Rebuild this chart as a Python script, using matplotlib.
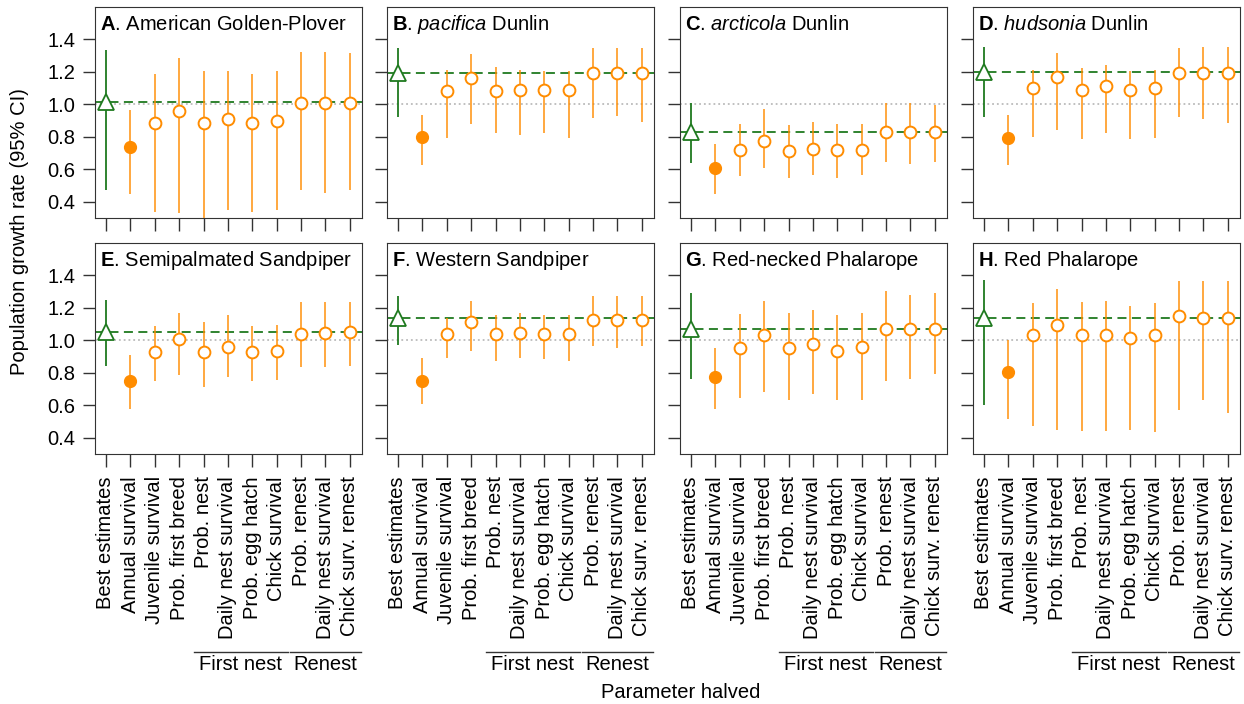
import matplotlib.pyplot as plt
import numpy as np

plt.rcParams['font.family'] = ['Liberation Sans', 'DejaVu Sans']
plt.rcParams['mathtext.fontset'] = 'custom'
plt.rcParams['mathtext.rm'] = 'Liberation Sans'
plt.rcParams['mathtext.it'] = 'Liberation Sans:italic'
plt.rcParams['mathtext.bf'] = 'Liberation Sans:bold'

############################
# data
############################
params = ["Best estimates", "Annual survival", "Juvenile survival", "Prob. first breed",
          "Prob. nest", "Daily nest survival", "Prob. egg hatch", "Chick survival",
          "Prob. renest", "Daily nest survival", "Chick surv. renest"]

titles = [r"$\mathbf{A}$. American Golden-Plover",
          r"$\mathbf{B}$. $\mathit{pacifica}$ Dunlin",
          r"$\mathbf{C}$. $\mathit{arcticola}$ Dunlin",
          r"$\mathbf{D}$. $\mathit{hudsonia}$ Dunlin",
          r"$\mathbf{E}$. Semipalmated Sandpiper",
          r"$\mathbf{F}$. Western Sandpiper",
          r"$\mathbf{G}$. Red-necked Phalarope",
          r"$\mathbf{H}$. Red Phalarope"]

est_A = [1.015, 0.735, 0.887, 0.959, 0.887, 0.912, 0.887, 0.897, 1.008, 1.008, 1.008]
lo_A = [0.473, 0.449, 0.335, 0.329, 0.27, 0.352, 0.335, 0.352, 0.473, 0.457, 0.473]
hi_A = [1.333, 0.963, 1.189, 1.284, 1.204, 1.204, 1.189, 1.204, 1.323, 1.323, 1.317]

est_B = [1.195, 0.798, 1.080, 1.160, 1.080, 1.086, 1.086, 1.086, 1.193, 1.193, 1.193]
lo_B = [0.922, 0.626, 0.794, 0.881, 0.825, 0.809, 0.825, 0.794, 0.914, 0.930, 0.889]
hi_B = [1.348, 0.932, 1.214, 1.309, 1.228, 1.214, 1.204, 1.204, 1.348, 1.348, 1.348]

est_C = [0.831, 0.605, 0.718, 0.774, 0.710, 0.724, 0.718, 0.718, 0.831, 0.831, 0.831]
lo_C = [0.640, 0.449, 0.556, 0.609, 0.545, 0.562, 0.545, 0.562, 0.648, 0.634, 0.648]
hi_C = [1.008, 0.753, 0.881, 0.969, 0.874, 0.889, 0.881, 0.881, 1.008, 1.008, 0.994]

est_D = [1.200, 0.792, 1.103, 1.169, 1.088, 1.111, 1.088, 1.103, 1.195, 1.195, 1.195]
lo_D = [0.924, 0.626, 0.802, 0.844, 0.788, 0.825, 0.788, 0.794, 0.922, 0.907, 0.883]
hi_D = [1.354, 0.936, 1.210, 1.317, 1.226, 1.245, 1.204, 1.210, 1.348, 1.354, 1.354]

est_E = [1.049, 0.749, 0.928, 1.006, 0.928, 0.961, 0.928, 0.936, 1.039, 1.047, 1.049]
lo_E = [0.844, 0.576, 0.747, 0.786, 0.714, 0.772, 0.747, 0.755, 0.833, 0.833, 0.844]
hi_E = [1.251, 0.912, 1.088, 1.171, 1.115, 1.154, 1.088, 1.097, 1.237, 1.237, 1.237]

est_F = [1.136, 0.749, 1.039, 1.113, 1.039, 1.047, 1.039, 1.039, 1.128, 1.128, 1.128]
lo_F = [0.971, 0.611, 0.891, 0.932, 0.874, 0.891, 0.883, 0.874, 0.963, 0.955, 0.963]
hi_F = [1.274, 0.891, 1.138, 1.243, 1.154, 1.171, 1.154, 1.154, 1.274, 1.274, 1.274]

est_G = [1.072, 0.776, 0.951, 1.031, 0.951, 0.975, 0.934, 0.959, 1.072, 1.072, 1.072]
lo_G = [0.765, 0.576, 0.644, 0.681, 0.634, 0.667, 0.634, 0.634, 0.747, 0.765, 0.794]
hi_G = [1.292, 0.955, 1.163, 1.243, 1.171, 1.187, 1.154, 1.171, 1.307, 1.282, 1.292]

est_H = [1.136, 0.807, 1.031, 1.095, 1.031, 1.031, 1.016, 1.031, 1.150, 1.136, 1.136]
lo_H = [0.603, 0.514, 0.473, 0.449, 0.442, 0.442, 0.449, 0.434, 0.570, 0.634, 0.553]
hi_H = [1.372, 1.002, 1.228, 1.317, 1.237, 1.245, 1.212, 1.228, 1.364, 1.364, 1.364]

est_all = [est_A, est_B, est_C, est_D, est_E, est_F, est_G, est_H]
lo_all = [lo_A, lo_B, lo_C, lo_D, lo_E, lo_F, lo_G, lo_H]
hi_all = [hi_A, hi_B, hi_C, hi_D, hi_E, hi_F, hi_G, hi_H]

############################
# plot
############################
green = '#1f7a1f'
orange = '#ff8c00'
fs = 14.5

fig = plt.figure(figsize=(12.44, 7.04), dpi=100)
lefts = [95, 387, 680, 973]
tops = [7, 243]
W, H = 1244, 704
pw, ph = 267, 211

x = np.arange(1, len(params) + 1)
for i in range(8):
    r, c = divmod(i, 4)
    ax = fig.add_axes([lefts[c] / W, 1 - (tops[r] + ph) / H, pw / W, ph / H])
    est, lo, hi = np.array(est_all[i]), np.array(lo_all[i]), np.array(hi_all[i])

    ax.axhline(1.0, color='#bbbbbb', ls=':', lw=1.3, zorder=1)
    ax.axhline(est[0], color=green, ls=(0, (5, 3)), lw=1.3, zorder=2)

    # best estimate
    ax.vlines(x[0], lo[0], hi[0], color=green, lw=1.3, zorder=3)
    ax.plot(x[0], est[0], marker='^', ms=12, mfc='white', mec=green, mew=1.3, zorder=4)
    # halved params
    ax.vlines(x[1:], lo[1:], hi[1:], color=orange, lw=1.4, alpha=0.75, zorder=3)
    ax.plot(x[1], est[1], marker='o', ms=8.5, mfc=orange, mec=orange, ls='none', zorder=4)
    ax.plot(x[2:], est[2:], marker='o', ms=8.5, mfc='white', mec=orange, mew=1.4, ls='none', zorder=4)

    ax.set_xlim(0.55, 11.5)
    ax.set_ylim(0.3, 1.6)
    ax.set_yticks([0.4, 0.6, 0.8, 1.0, 1.2, 1.4])
    ax.set_xticks(x)
    ax.tick_params(length=9, width=1, color='#333333', labelsize=fs, pad=5)
    ax.tick_params(axis='x', pad=7)
    if c == 0:
        ax.set_yticklabels(['0.4', '0.6', '0.8', '1.0', '1.2', '1.4'])
    else:
        ax.set_yticklabels([])
    if r == 1:
        ax.set_xticklabels(params, rotation=90)
        trans = ax.get_xaxis_transform()
        ax.plot([4.6, 8.45], [-0.94, -0.94], color='#333333', lw=1, transform=trans, clip_on=False)
        ax.plot([8.55, 11.45], [-0.94, -0.94], color='#333333', lw=1, transform=trans, clip_on=False)
        ax.text(6.5, -1.0, "First nest", ha='center', va='center', fontsize=fs, transform=trans)
        ax.text(10.0, -1.0, "Renest", ha='center', va='center', fontsize=fs, transform=trans)
    else:
        ax.set_xticklabels([])
    for s in ax.spines.values():
        s.set_color('#333333')
    ax.text(0.02, 0.915, titles[i], transform=ax.transAxes, ha='left', va='center', fontsize=fs)

fig.text(681 / W, 1 - 692 / H, "Parameter halved", ha='center', va='center', fontsize=fs)
fig.text(20 / W, 1 - 232 / H, "Population growth rate (95% CI)", ha='center', va='center',
         rotation=90, fontsize=fs)

plt.savefig('out.png', dpi=100)
